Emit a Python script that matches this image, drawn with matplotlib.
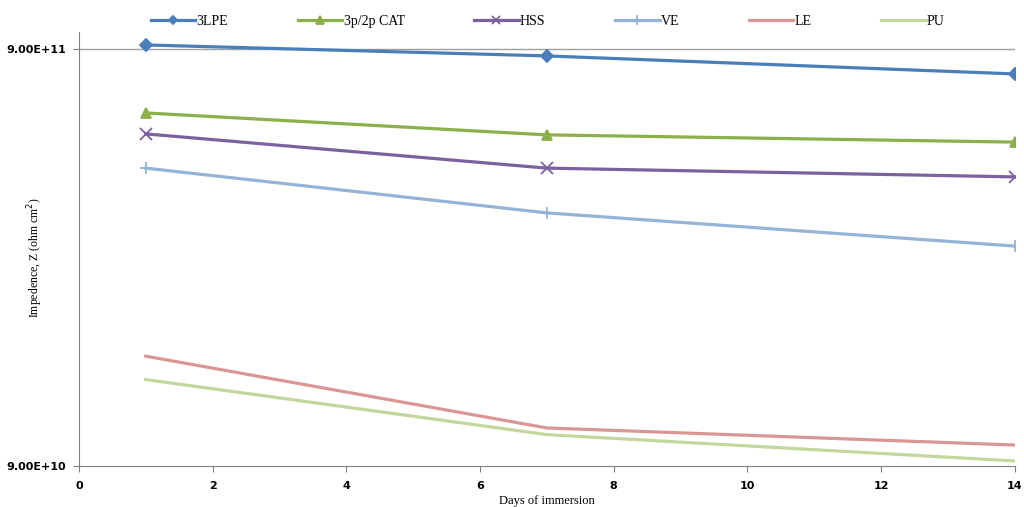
import numpy as np
import matplotlib.pyplot as plt
from matplotlib.ticker import FixedLocator, NullLocator

days = [1, 7, 14]
series_names = ['3LPE', '3p/2p CAT', 'HSS', 'VE', 'LE', 'PU']
lpe = [9.2e11, 8.66e11, 7.84e11]
cat = [6.32e11, 5.60e11, 5.38e11]
hss = [5.63e11, 4.66e11, 4.44e11]
ve = [4.66e11, 3.64e11, 3.03e11]
le = [1.65e11, 1.11e11, 1.01e11]
pu = [1.45e11, 1.07e11, 9.25e10]
y_ticks = [9e10, 9e11]
y_tick_labels = ['9.00E+10', '9.00E+11']
x_ticks = [0, 2, 4, 6, 8, 10, 12, 14]

colors = ['#4A7EBB', '#8CB04A', '#7D60A0', '#95B3D7', '#D99694', '#C3D69B']
markers = ['D', '^', 'x', '+', None, None]
msizes = [6, 7, 8, 9, 0, 0]

fig = plt.figure(figsize=(10.24, 5.07), dpi=100)
ax = fig.add_axes([0.077, 0.081, 0.914, 0.856])

all_data = [lpe, cat, hss, ve, le, pu]
for name, vals, c, m, ms in zip(series_names, all_data, colors, markers, msizes):
    ax.plot(days, vals, color=c, lw=2.3, marker=m, markersize=ms,
            markeredgewidth=1.3, label=name)

ax.set_yscale('log')
ax.set_ylim(9e10, 9e11 * 10 ** (17 / 417))
ax.set_xlim(0, 14)
ax.yaxis.set_major_locator(FixedLocator(y_ticks))
ax.yaxis.set_minor_locator(NullLocator())
ax.set_yticklabels(y_tick_labels)
ax.set_xticks(x_ticks)
ax.axhline(9e11, color='#A0A0A0', lw=1, zorder=0)

for s in ['top', 'right']:
    ax.spines[s].set_visible(False)
for s in ['left', 'bottom']:
    ax.spines[s].set_color('#808080')
ax.tick_params(colors='#808080', length=4, width=0.8)
ax.tick_params(axis='x', pad=7)
ax.tick_params(axis='y', pad=5)
for lab in ax.get_xticklabels() + ax.get_yticklabels():
    lab.set_color('black')
    lab.set_fontweight('bold')
    lab.set_fontsize(8)
    lab.set_family('DejaVu Sans')

ax.set_xlabel('Days of immersion', family='Liberation Serif', fontsize=9, labelpad=3)
ax.set_ylabel('Impedence, Z (ohm cm$^2$)', family='Liberation Serif', fontsize=8.5)
ax.yaxis.set_label_coords(-0.036, 0.48)

fig.legend(loc='upper center', bbox_to_anchor=(0.535, 0.995), ncol=6, frameon=False,
           prop={'family': 'Liberation Serif', 'size': 10}, columnspacing=5.0,
           handlelength=3.2, handletextpad=0.1, markerscale=0.75)

plt.savefig('out.png', dpi=100)
